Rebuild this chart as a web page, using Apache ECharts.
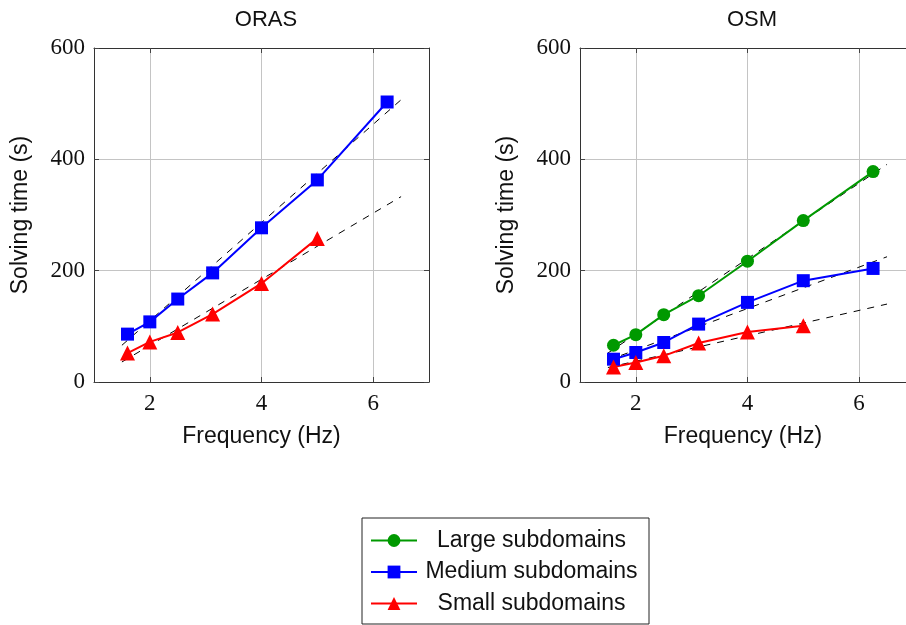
<!DOCTYPE html>
<html>
<head>
<meta charset="utf-8">
<script src="https://cdn.jsdelivr.net/npm/echarts@6/dist/echarts.min.js"></script>
<style>
  html, body { margin: 0; padding: 0; background: #fff; }
  #main { width: 906px; height: 625px; }
</style>
</head>
<body>
<div id="main"></div>
<script>
// data
const freq = [1.6, 2, 2.5, 3.125, 4, 5, 6.25];
const orasMedium = [86, 108, 149, 196, 277, 363, 503];
const orasSmall = [52, 72, 89, 122, 177, 258];
const osmLarge = [66, 85, 121, 155, 217, 290, 378];
const osmMedium = [41, 53, 71, 104, 143, 182, 204];
const osmSmall = [27, 35, 47, 70, 90, 101];

// dashed fit lines (end points)
const fitX = [1.5, 6.5];
const orasMediumFit = [66, 507];
const orasSmallFit = [36, 333];
const osmLargeFit = [52, 391];
const osmMediumFit = [39, 225];
const osmSmallFit = [26, 140];

const xTicks = [2, 4, 6];
// OSM panel is cut by the right edge of the picture
const xMax = [7, 6.84];

const sans = '"Liberation Sans", Arial, sans-serif';
const serif = '"Liberation Serif", "DejaVu Serif", serif';

const zip = (xs, ys) => ys.map((y, i) => [xs[i], y]);

const mychart = echarts.init(document.getElementById('main'));

function xAx(gi, top) {
  return {
    type: 'value', gridIndex: gi, min: 1, max: xMax[gi],
    position: top ? 'top' : 'bottom',
    name: top ? '' : 'Frequency (Hz)',
    nameLocation: 'middle', nameGap: 43,
    nameTextStyle: { fontFamily: sans, fontSize: 23, color: '#111' },
    axisLine: { show: true, onZero: false, lineStyle: { color: '#333', width: 1 } },
    axisTick: { show: true, inside: true, length: 5, customValues: xTicks, lineStyle: { color: '#444' } },
    axisLabel: { show: !top, customValues: xTicks, margin: 10, fontFamily: serif, fontSize: 23, color: '#111' },
    splitLine: { show: !top, lineStyle: { color: '#c4c4c4', width: 1 } }
  };
}
function yAx(gi, right) {
  const cut = right && gi === 1;
  return {
    type: 'value', gridIndex: gi, min: 0, max: 600, interval: 200,
    position: right ? 'right' : 'left',
    name: right ? '' : 'Solving time (s)',
    nameLocation: 'middle', nameGap: 62, nameRotate: 90,
    nameTextStyle: { fontFamily: sans, fontSize: 23, color: '#111' },
    axisLine: { show: !cut, onZero: false, lineStyle: { color: '#333', width: 1 } },
    axisTick: { show: !cut, inside: true, length: 5, lineStyle: { color: '#444' } },
    axisLabel: { show: !right, margin: 9, fontFamily: serif, fontSize: 23, color: '#111' },
    splitLine: { show: !right, lineStyle: { color: '#c4c4c4', width: 1 } }
  };
}

function dataLine(name, gi, data, color, symbol, size) {
  return {
    name: name, type: 'line', xAxisIndex: gi * 2, yAxisIndex: gi * 2,
    data: data, symbol: symbol, symbolSize: size,
    lineStyle: { color: color, width: 2 },
    itemStyle: { color: color },
    z: 3, animation: false
  };
}
function fitLine(gi, ys) {
  return {
    type: 'line', xAxisIndex: gi * 2, yAxisIndex: gi * 2,
    data: zip(fitX, ys), symbol: 'none', silent: true,
    lineStyle: { color: '#000', width: 1, type: [7, 7] },
    z: 2, animation: false
  };
}

const option = {
  animation: false,
  backgroundColor: '#fff',
  title: [
    { text: 'ORAS', left: 261, top: 4, textAlign: 'center',
      textStyle: { fontFamily: sans, fontSize: 22, fontWeight: 'normal', color: '#111' } },
    { text: 'OSM', left: 747, top: 4, textAlign: 'center',
      textStyle: { fontFamily: sans, fontSize: 22, fontWeight: 'normal', color: '#111' } }
  ],
  grid: [
    { left: 94, top: 48, width: 335, height: 334 },
    { left: 580, top: 48, width: 326, height: 334 }
  ],
  xAxis: [xAx(0, false), xAx(0, true), xAx(1, false), xAx(1, true)],
  yAxis: [yAx(0, false), yAx(0, true), yAx(1, false), yAx(1, true)],
  legend: {
    data: ['Large subdomains', 'Medium subdomains', 'Small subdomains'],
    orient: 'vertical', left: 362, top: 518, height: 200,
    padding: [11, 8, 9, 8], itemGap: 8.5,
    itemWidth: 46, itemHeight: 16,
    borderColor: '#222', borderWidth: 1, borderRadius: 0,
    selectedMode: false,
    formatter: function (n) { return '{c|' + n + '}'; },
    textStyle: {
      rich: { c: { width: 219, align: 'center', fontFamily: sans, fontSize: 23, color: '#111', lineHeight: 22 } }
    }
  },
  series: [
    fitLine(0, orasMediumFit),
    fitLine(0, orasSmallFit),
    dataLine('Medium subdomains', 0, zip(freq, orasMedium), '#0000ff', 'rect', 13),
    dataLine('Small subdomains', 0, zip(freq, orasSmall), '#ff0000', 'triangle', 15),
    fitLine(1, osmLargeFit),
    fitLine(1, osmMediumFit),
    fitLine(1, osmSmallFit),
    dataLine('Large subdomains', 1, zip(freq, osmLarge), '#009900', 'circle', 13),
    dataLine('Medium subdomains', 1, zip(freq, osmMedium), '#0000ff', 'rect', 13),
    dataLine('Small subdomains', 1, zip(freq, osmSmall), '#ff0000', 'triangle', 15)
  ]
};

mychart.setOption(option);
</script>
</body>
</html>
